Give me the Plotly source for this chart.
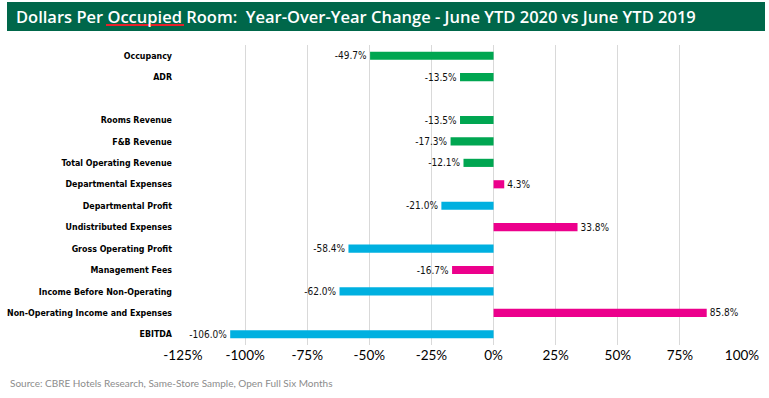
import plotly.graph_objects as go

categories = ["Occupancy", "ADR", " ", "Rooms Revenue", "F&B Revenue", "Total Operating Revenue",
              "Departmental Expenses", "Departmental Profit", "Undistributed Expenses",
              "Gross Operating Profit", "Management Fees", "Income Before Non-Operating",
              "Non-Operating Income and Expenses", "EBITDA"]
values = [-49.7, -13.5, None, -13.5, -17.3, -12.1, 4.3, -21.0, 33.8, -58.4, -16.7, -62.0, 85.8, -106.0]
groups = ["rev", "rev", "rev", "rev", "rev", "rev", "exp", "profit", "exp", "profit", "exp", "profit", "exp", "profit"]
tick_vals = [-125, -100, -75, -50, -25, 0, 25, 50, 75, 100]
tick_text = ["-125%", "-100%", "-75%", "-50%", "-25%", "0%", "25%", "50%", "75%", "100%"]

color_map = {"rev": "#00A651", "exp": "#EC008C", "profit": "#00B0E0"}
colors = [color_map[g] for g in groups]
labels = ["" if v is None else f"{v:.1f}%" for v in values]

L, T, W, H = 183, 45, 559, 300
def px(x):
    return (x - L) / W
def py(y):
    return 1 + (T - y) / H

fig = go.Figure(go.Bar(
    y=categories, x=values, orientation="h",
    marker=dict(color=colors, line=dict(width=0)),
    text=labels, textposition="outside", cliponaxis=False, constraintext="none",
    textfont=dict(family="DejaVu Sans Condensed", size=10, color="#111111"),
    width=0.38,
))

fig.update_layout(
    width=769, height=398,
    margin=dict(l=183, r=27, t=45, b=53, autoexpand=False),
    paper_bgcolor="white", plot_bgcolor="white",
    showlegend=False,
    xaxis=dict(range=[-125, 100], tickvals=tick_vals, ticktext=tick_text,
               showgrid=True, gridcolor="#D9D9D9", gridwidth=1.3, zeroline=False,
               showline=False, ticks="", automargin=False,
               tickfont=dict(family="Lato", size=13.5, color="#000000")),
    yaxis=dict(categoryorder="array", categoryarray=categories, autorange="reversed",
               showgrid=False, zeroline=False, showline=False, ticks="",
               ticklabelstandoff=10, automargin=False,
               tickfont=dict(family="DejaVu Sans Condensed", size=8.8, color="#000000", weight="bold")),
    shapes=[
        dict(type="rect", xref="paper", yref="paper", x0=px(7), x1=px(765),
             y0=py(31), y1=py(2), fillcolor="#00674A", line=dict(width=0), layer="below"),
        dict(type="line", xref="paper", yref="paper", x0=px(106), x1=px(184),
             y0=py(25), y1=py(25), line=dict(color="#E8202A", width=2)),
    ],
    annotations=[
        dict(text="Dollars Per Occupied Room:  Year-Over-Year Change - June YTD 2020 vs June YTD 2019",
             xref="paper", yref="paper", x=px(14), y=py(16.5),
             xanchor="left", yanchor="middle", showarrow=False,
             font=dict(family="Open Sans", size=16.5, color="white", weight=600)),
        dict(text="Source: CBRE Hotels Research, Same-Store Sample, Open Full Six Months",
             xref="paper", yref="paper", x=px(8), y=py(383),
             xanchor="left", yanchor="middle", showarrow=False,
             font=dict(family="Lato", size=10, color="#8C8C8C")),
    ],
)

fig.write_html("out.html", config={"displayModeBar": False},
               post_script="document.body.style.margin='0';document.body.style.overflow='hidden';")
